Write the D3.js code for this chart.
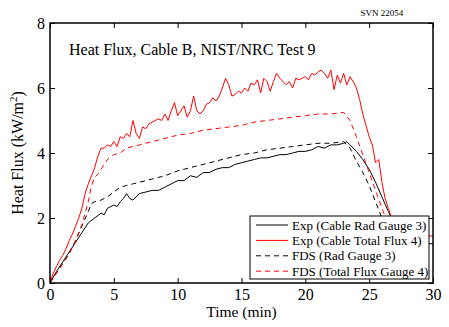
<!DOCTYPE html>
<html><head><meta charset="utf-8">
<script src="https://cdn.jsdelivr.net/npm/d3@7"></script>
<style>body{margin:0;background:#fff}svg{display:block;font-family:"Liberation Serif","Times New Roman",serif}</style>
</head><body><svg id="c" width="449" height="327"></svg>
<script>
const xTicks=[0,5,10,15,20,25,30];
const yTicks=[0,2,4,6,8];
const title="Heat Flux, Cable B, NIST/NRC Test 9";
const xLabel="Time (min)";
const tag="SVN 22054";
const seriesNames=["Exp (Cable Rad Gauge 3)","Exp (Cable Total Flux 4)","FDS (Rad Gauge 3)","FDS (Total Flux Gauge 4)"];
const expTotT=[0,0.25,0.5,0.75,1,1.25,1.5,1.75,2,2.25,2.5,2.75,3,3.25,3.5,3.75,4,4.25,4.5,4.75,5,5.25,5.5,5.75,6,6.25,6.5,6.75,7,7.25,7.5,7.75,8,8.25,8.5,8.75,9,9.25,9.5,9.75,10,10.25,10.5,10.75,11,11.25,11.5,11.75,12,12.25,12.5,12.75,13,13.25,13.5,13.75,14,14.25,14.5,14.75,15,15.25,15.5,15.75,16,16.25,16.5,16.75,17,17.25,17.5,17.75,18,18.25,18.5,18.75,19,19.25,19.5,19.75,20,20.25,20.5,20.75,21,21.25,21.5,21.75,22,22.25,22.5,22.75,23,23.25,23.5,23.75,24,24.25,24.5,24.75,25,25.25,25.5,25.75,26,26.25,26.5,26.75,27,27.5,28,29,29.5,30];
const expTotV=[0,0.3,0.5,0.7,0.85,1.05,1.3,1.5,1.75,2.0,2.3,2.75,3.05,3.3,3.55,3.9,4.15,4.15,4.25,4.2,4.35,4.2,4.5,4.45,4.6,4.5,5.0,4.6,4.45,4.8,4.75,4.9,4.95,5.0,5.05,5.0,5.2,5.0,5.3,5.55,5.15,5.3,5.45,5.1,5.3,5.75,5.3,5.2,5.3,5.5,5.55,5.7,5.6,5.75,6.0,6.3,6.1,5.75,5.8,5.9,5.85,6.0,5.9,6.15,6.1,6.25,5.85,6.3,6.2,5.9,6.2,6.45,6.3,6.2,6.1,6.2,6.0,6.3,6.25,6.3,6.35,6.25,6.45,6.4,6.5,6.55,6.45,6.3,6.55,5.95,6.4,6.15,6.45,6.1,6.35,6.2,6.0,5.65,5.2,4.85,4.5,4.25,3.7,3.8,3.1,2.6,2.3,2.0,1.8,1.6,1.55,1.5,1.45,1.45];
const expRadT=[0,0.5,1,1.5,2,2.5,3,3.5,4,4.25,4.5,4.75,5,5.25,5.5,5.75,6,6.25,6.5,7,7.5,8,8.5,9,9.5,10,10.5,11,11.5,12,12.5,13,13.5,14,14.5,15,15.5,16,16.5,17,17.5,18,18.5,19,19.5,20,20.5,21,21.5,22,22.5,23,23.25,23.5,24,24.5,25,25.5,26,26.5,27,27.5,28,29,30];
const expRadV=[0,0.35,0.65,0.95,1.25,1.55,1.85,2.0,2.15,2.1,2.3,2.35,2.4,2.35,2.5,2.6,2.75,2.6,2.55,2.75,2.8,2.85,2.85,2.95,3.05,3.15,3.15,3.3,3.25,3.4,3.4,3.5,3.55,3.55,3.65,3.7,3.75,3.8,3.85,3.85,3.9,3.95,3.95,4.0,4.05,4.05,4.1,4.2,4.15,4.25,4.25,4.3,4.35,4.25,4.05,3.8,3.5,3.1,2.65,2.2,1.8,1.5,1.3,1.25,1.2];
const fdsRadT=[0,0.5,1,1.5,2,2.5,3,3.25,3.5,4,4.5,5,5.5,6,7,8,9,10,11,12,13,14,15,16,17,18,19,20,21,22,23,23.5,24,24.5,25,25.5,26,26.5,27,27.5];
const fdsRadV=[0,0.3,0.6,0.9,1.3,1.75,2.2,2.45,2.5,2.55,2.65,2.8,2.95,3.0,3.1,3.2,3.3,3.45,3.55,3.65,3.75,3.85,3.95,4.0,4.1,4.15,4.2,4.25,4.3,4.3,4.35,4.15,3.75,3.4,3.0,2.5,2.0,1.5,1.1,0.8];
const fdsTotT=[0,0.5,1,1.5,2,2.5,3,3.25,3.5,3.75,4,4.5,5,5.5,6,7,8,9,10,11,12,13,14,15,16,17,18,19,20,21,22,23,23.5,24,24.5,25,25.5,26,26.5,27,27.5];
const fdsTotV=[0,0.3,0.6,0.9,1.3,1.8,2.5,3.0,3.25,3.35,3.5,3.8,3.95,4.0,4.15,4.25,4.35,4.45,4.55,4.6,4.7,4.75,4.8,4.85,4.95,5.0,5.05,5.1,5.15,5.2,5.2,5.25,5.0,4.5,3.95,3.4,2.85,2.3,1.8,1.3,0.9];

const svg=d3.select("#c");
const L=50,R=433,T=23,B=283;
const x=d3.scaleLinear().domain([0,30]).range([L,R]);
const y=d3.scaleLinear().domain([0,8]).range([B,T]);
svg.append("clipPath").attr("id","cp").append("rect").attr("x",L).attr("y",T).attr("width",R-L).attr("height",B-T);
const line=d3.line().x(d=>x(d[0])).y(d=>y(d[1]));
const zip=(a,b)=>a.map((t,i)=>[t,b[i]]);
const series=[
 {d:zip(expRadT,expRadV),c:"#000",dash:null},
 {d:zip(expTotT,expTotV),c:"#ff0000",dash:null},
 {d:zip(fdsRadT,fdsRadV),c:"#000",dash:"5,4"},
 {d:zip(fdsTotT,fdsTotV),c:"#ff0000",dash:"5,4"}];
const g=svg.append("g").attr("clip-path","url(#cp)");
series.forEach(s=>{g.append("path").attr("d",line(s.d)).attr("fill","none").attr("stroke",s.c).attr("stroke-width",1).attr("stroke-dasharray",s.dash);});

const fs=16;
const ax=svg.append("g").attr("transform",`translate(0,${B})`).call(d3.axisBottom(x).tickValues(xTicks).tickSize(-5).tickPadding(5).tickFormat(d3.format("d")));
const axT=svg.append("g").attr("transform",`translate(0,${T})`).call(d3.axisTop(x).tickValues(xTicks).tickSize(-5).tickFormat(""));
const ay=svg.append("g").attr("transform",`translate(${L},0)`).call(d3.axisLeft(y).tickValues(yTicks).tickSize(-5).tickPadding(5).tickFormat(d3.format("d")));
const ayR=svg.append("g").attr("transform",`translate(${R},0)`).call(d3.axisRight(y).tickValues(yTicks).tickSize(-5).tickFormat(""));
[ax,axT,ay,ayR].forEach(a=>{a.selectAll(".domain").remove();a.selectAll("line").attr("stroke","#000").attr("stroke-width",1);a.selectAll("text").attr("font-size",fs).attr("font-family","Liberation Serif").attr("fill","#000");});
ax.selectAll("text").attr("dy","0.72em");
ay.selectAll("text").attr("dy","0.35em");
svg.append("rect").attr("x",L).attr("y",T).attr("width",R-L).attr("height",B-T).attr("fill","none").attr("stroke","#000").attr("stroke-width",1.5);

svg.append("text").attr("x",69).attr("y",55).attr("font-size",16).text(title);
svg.append("text").attr("x",382).attr("y",16).attr("text-anchor","middle").attr("font-size",9).text(tag);
svg.append("text").attr("x",(L+R)/2).attr("y",317).attr("text-anchor","middle").attr("font-size",15.5).text(xLabel);
const yl=svg.append("text").attr("transform",`translate(23,${(T+B)/2}) rotate(-90)`).attr("text-anchor","middle").attr("font-size",16);
yl.append("tspan").text("Heat Flux (kW/m");
yl.append("tspan").attr("font-size",11).attr("dy",-6).text("2");
yl.append("tspan").attr("dy",6).text(")");

const lg=svg.append("g");
lg.append("rect").attr("x",250).attr("y",216).attr("width",179).attr("height",63).attr("fill","#fff").attr("stroke","#000").attr("stroke-width",1);
series.forEach((s,i)=>{
 const yy=225+i*15.4;
 lg.append("line").attr("x1",256).attr("x2",288).attr("y1",yy).attr("y2",yy).attr("stroke",s.c).attr("stroke-width",1).attr("stroke-dasharray",s.dash);
 lg.append("text").attr("x",292).attr("y",yy).attr("dy","0.35em").attr("font-size",13).text(seriesNames[i]);
});
</script></body></html>
